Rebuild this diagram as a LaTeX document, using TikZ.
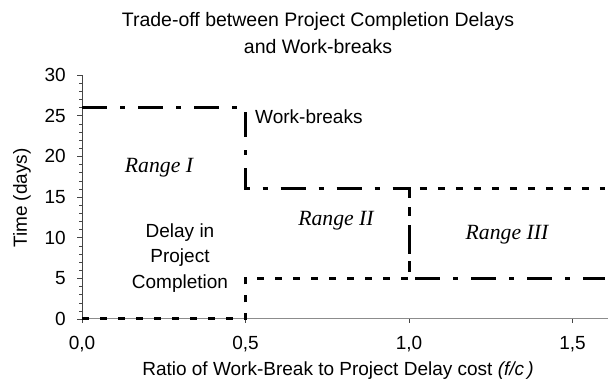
\documentclass[tikz,border=0pt]{standalone}
\usepackage{fontspec}
\setmainfont{Liberation Sans}
\newfontfamily\rangefont{Liberation Serif}
\usepackage{xcolor}
\definecolor{yaxisgray}{RGB}{70,70,70}
\definecolor{xaxisgray}{RGB}{140,140,140}
\definecolor{chartblack}{RGB}{0,0,0}

\begin{document}
\begin{tikzpicture}[x=1pt, y=1pt,
  lbl/.style={font=\fontsize{19}{25.5}\selectfont, inner sep=0pt, text=chartblack},
  rangelbl/.style={font=\rangefont\itshape\fontsize{21.7}{26}\selectfont, inner sep=0pt},
  breakline/.style={line width=3pt, chartblack, dash pattern=on 25pt off 13pt on 5pt off 13pt},
  delayline/.style={line width=3pt, chartblack, dash pattern=on 7pt off 11pt}
]
\useasboundingbox (0,0) rectangle (608,385);

\node[lbl, align=center, font=\fontsize{19.5}{27}\selectfont] (title) at (318,352) {Trade-off between Project Completion Delays\\and Work-breaks};

\begin{scope}[shift={(82,66)}, x=327pt, y=8.133pt]
  % axes
  \draw[xaxisgray, line width=1pt] (0,0) -- (1.61,0);
  \draw[yaxisgray, line width=1pt] (0,0) -- (0,30);
  \foreach \t in {0,...,30}
    \draw[yaxisgray] (0,\t) -- ++(-3pt,0);
  \foreach \t in {0,5,...,30} {
    \draw[yaxisgray] (0,\t) -- ++(-5pt,0);
    \node[lbl, anchor=east] (ylab\t) at ([xshift=-16pt]0,\t) {\t};
  }
  \foreach \v/\s in {0/{0,0}, 0.5/{0,5}, 1/{1,0}, 1.5/{1,5}} {
    \draw[yaxisgray] (\v,0) -- ++(0,-4pt);
    \node[lbl] at ([yshift=-25pt]\v,0) {\s};
  }

  % data lines
  \draw[delayline] (0,0) -- (0.5,0) -- (0.5,5) -- (1,5) -- (1,16) -- (1.6,16);
  \draw[breakline] (0,26) -- (0.5,26) -- (0.5,16) -- (1,16) -- (1,5) -- (1.6,5);
\end{scope}

% axis titles
\node[lbl] (xtitle) at (338,14) {Ratio of Work-Break to Project Delay cost \textit{(f/c\,)}};
\node[lbl, rotate=90] (ytitle) at (22,187) {Time (days)};

% labels in the plot
\node[lbl, anchor=west] (breaks) at (255,268) {Work-breaks};
\node[lbl, align=center] (delay) at (180,127) {Delay in\\Project\\Completion};
\node[rangelbl] (r1) at (159,217) {Range I};
\node[rangelbl] (r2) at (336,164) {Range II};
\node[rangelbl] (r3) at (507,150) {Range III};
\end{tikzpicture}
\end{document}
